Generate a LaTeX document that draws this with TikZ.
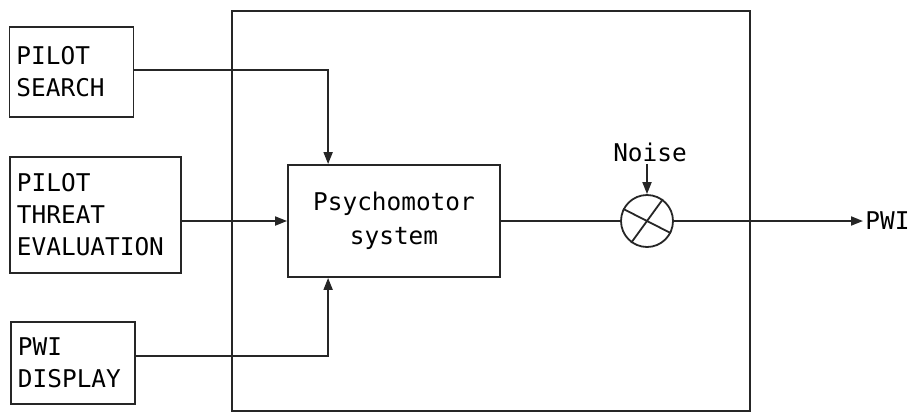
\documentclass[tikz,border=0pt]{standalone}
\usepackage{fontspec}
\setmonofont{DejaVu Sans Mono}
\usetikzlibrary{arrows.meta}
\begin{document}
\begin{tikzpicture}[x=0.5pt,y=-0.5pt,
  every node/.style={font=\ttfamily\fontsize{12.2}{16}\selectfont},
  line/.style={draw=black!85, line width=0.9pt},
  arr/.style={line, -{Triangle[length=6pt,width=4.5pt]}},
  inbox/.style={line, rectangle, align=left, inner xsep=3.5pt, inner ysep=0pt},
  blockbox/.style={line, rectangle, align=center, inner sep=0pt}]
  \useasboundingbox (0,0) rectangle (909,413);

  % outer frame around the psychomotor part
  \draw[line] (232,11) rectangle (750,411);

  % input blocks
  \node[inbox, text width=55pt, minimum height=45pt] (search) at (71.5,72) {PILOT\\SEARCH};
  \node[inbox, text width=78.5pt, minimum height=58pt] (threat) at (95.5,215) {PILOT\\THREAT\\EVALUATION};
  \node[inbox, text width=55pt, minimum height=41pt] (disp) at (73,363) {PWI\\DISPLAY};

  % psychomotor block
  \node[blockbox, minimum width=106pt, minimum height=56pt,
        font=\ttfamily\fontsize{12.2}{17}\selectfont] (psy) at (394,221) {Psychomotor\\system};

  % noise summing junction
  \node[line, circle, minimum size=26pt, inner sep=0pt] (sum) at (647,221) {};
  \draw[line] (sum.153) -- (sum.-27);
  \draw[line] (sum.54) -- (sum.234);
  \node[inner sep=1pt] (noise) at (650,152) {Noise};

  % output
  \coordinate (out) at (863,221);
  \node[anchor=west, inner sep=1pt] (pwi) at (out) {PWI};

  % connectors
  \draw[arr] ([yshift=1pt]search.east) -| ([xshift=20.5pt]psy.north west);
  \draw[arr] (threat.east |- psy.west) -- (psy.west);
  \draw[arr] ([yshift=3.5pt]disp.east) -| ([xshift=20.5pt]psy.south west);
  \draw[line] (psy.east) -- (sum.west);
  \draw[arr] (noise.south -| sum.north) -- (sum.north);
  \draw[arr] (sum.east) -- (out);
\end{tikzpicture}
\end{document}
